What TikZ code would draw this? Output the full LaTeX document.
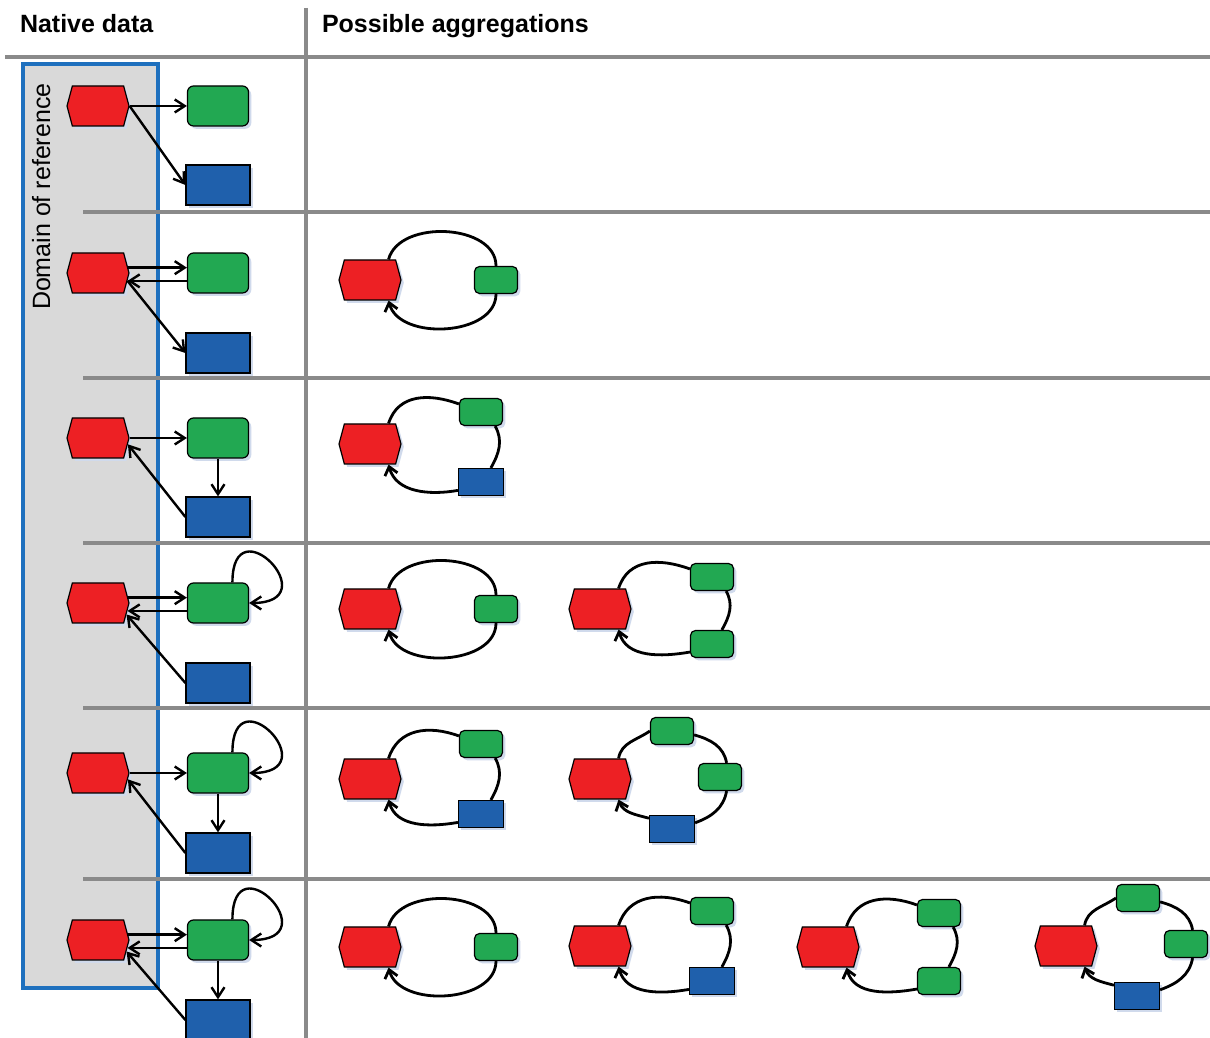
\documentclass[tikz,border=0pt]{standalone}
\usepackage{fontspec}
\setmainfont{Liberation Sans}
\usetikzlibrary{arrows.meta,shapes.symbols,shadows}
\tikzset{
  softshadow/.style={drop shadow={shadow xshift=1.4pt,shadow yshift=-1.4pt,fill=shadowColor,opacity=1}},
  redhex/.style={shape=signal,signal to=east and west,signal pointer angle=150,
    draw=black,line width=0.6pt,fill=hexColor,minimum width=31pt,minimum height=20pt,inner sep=0pt,softshadow},
  greenbox/.style={rectangle,rounded corners=3pt,draw=black,line width=0.6pt,fill=greenColor,
    minimum width=30.5pt,minimum height=20pt,inner sep=0pt,softshadow},
  bluebox/.style={rectangle,draw=black,line width=0.6pt,fill=blueColor,
    minimum width=32pt,minimum height=20pt,inner sep=0pt,softshadow},
  smallgreen/.style={greenbox,rounded corners=2.5pt,minimum width=21.5pt,minimum height=13.5pt},
  smallblue/.style={bluebox,minimum width=22.5pt,minimum height=13.5pt},
  arr/.style={line width=1.2pt,-{Straight Barb[length=5pt,width=6.5pt]}},
  cyc/.style={line width=1.4pt},
  cycarr/.style={cyc,-{Straight Barb[length=4pt,width=6.5pt]}},
  sepline/.style={draw=lineColor,line width=1.6pt},
  hdrtext/.style={anchor=base west,inner sep=0pt,outer sep=0pt,font=\fontsize{12.5}{15}\selectfont},
}
\begin{document}
\begin{tikzpicture}[x=0.5pt,y=0.5pt]
\definecolor{hexColor}{RGB}{237,32,36}
\definecolor{greenColor}{RGB}{34,168,82}
\definecolor{blueColor}{RGB}{31,96,172}
\definecolor{shadowColor}{RGB}{208,218,236}
\definecolor{domainColor}{RGB}{30,112,190}
\definecolor{domainFill}{RGB}{217,217,217}
\definecolor{lineColor}{RGB}{138,138,138}
\path[use as bounding box,fill=white] (0,0) rectangle (1210,1038);

\path[draw=domainColor,line width=1.6pt,fill=domainFill] ( 23, 50) rectangle (158,974);
\node[hdrtext,rotate=90] (domain) at ( 50,728) {Domain of reference};

\path[sepline] (  5,981) -- (1210,981);
\path[sepline] ( 83,826) -- (1210,826);
\path[sepline] ( 83,660) -- (1210,660);
\path[sepline] ( 83,495) -- (1210,495);
\path[sepline] ( 83,330) -- (1210,330);
\path[sepline] ( 83,159) -- (1210,159);
\path[sepline] (306,1030) -- (306,0);

\node[hdrtext] (native) at ( 20,1005) {\bfseries Native data};
\node[hdrtext] (aggs) at (322,1005) {\bfseries Possible aggregations};

\node[redhex] (nr1) at ( 98,932) {};
\node[greenbox] (ng1) at (218,932) {};
\node[bluebox] (nb1) at (218,853) {};
\draw[arr] (nr1.east) -- (ng1.west);
\draw[arr] (nr1.east) -- (nb1.west);

\node[redhex] (nr2) at ( 98,765) {};
\node[greenbox] (ng2) at (218,765) {};
\node[bluebox] (nb2) at (218,685) {};
\draw[arr] (nr2.10) -- (nr2.10 -| ng2.west);
\draw[arr] (nr2.-15 -| ng2.west) -- (nr2.-15);
\draw[arr] (nr2.-15) -- (nb2.west);

\node[redhex] (nr3) at ( 98,600) {};
\node[greenbox] (ng3) at (218,600) {};
\node[bluebox] (nb3) at (218,521) {};
\draw[arr] (nr3.east) -- (ng3.west);
\draw[arr] (ng3.south) -- (nb3.north);
\draw[arr] (nb3.west) -- (nr3.-12);

\node[redhex] (nr4) at ( 98,435) {};
\node[greenbox] (ng4) at (218,435) {};
\node[bluebox] (nb4) at (218,355) {};
\draw[arr] (nr4.10) -- (nr4.10 -| ng4.west);
\draw[arr] (nr4.-15 -| ng4.west) -- (nr4.-15);
\draw[arr] (nb4.west) -- (nr4.-22);
\draw[arr] (ng4.55) .. controls +(0,80) and +(80,0) .. (ng4.east);

\node[redhex] (nr5) at ( 98,265) {};
\node[greenbox] (ng5) at (218,265) {};
\node[bluebox] (nb5) at (218,185) {};
\draw[arr] (nr5.east) -- (ng5.west);
\draw[arr] (ng5.south) -- (nb5.north);
\draw[arr] (nb5.west) -- (nr5.-12);
\draw[arr] (ng5.55) .. controls +(0,80) and +(80,0) .. (ng5.east);

\node[redhex] (nr6) at ( 98, 98) {};
\node[greenbox] (ng6) at (218, 98) {};
\node[bluebox] (nb6) at (218, 18) {};
\draw[arr] (nr6.10) -- (nr6.10 -| ng6.west);
\draw[arr] (nr6.-15 -| ng6.west) -- (nr6.-15);
\draw[arr] (ng6.south) -- (nb6.north);
\draw[arr] (nb6.west) -- (nr6.-22);
\draw[arr] (ng6.55) .. controls +(0,80) and +(80,0) .. (ng6.east);

\node[redhex] (r2a) at (370,758) {};
\node[smallgreen] (g2a) at (496,758) {};
\draw[cyc] (r2a.48) to[out=75,in=90] (g2a.north);
\draw[cycarr] (g2a.south) to[out=-90,in=-75] (r2a.-48);

\node[redhex] (r3a) at (370,594) {};
\node[smallgreen] (g3a) at (481,626) {};
\node[smallblue] (b3a) at (481,556) {};
\draw[cyc] (r3a.48) to[out=72,in=160,looseness=1.1] (g3a.160);
\draw[cyc] (g3a.-45) to[out=-60,in=60] (b3a.55);
\draw[cycarr] (b3a.200) to[out=190,in=-75] (r3a.-48);

\node[redhex] (r4a) at (370,429) {};
\node[smallgreen] (g4a) at (496,429) {};
\draw[cyc] (r4a.48) to[out=75,in=90] (g4a.north);
\draw[cycarr] (g4a.south) to[out=-90,in=-75] (r4a.-48);

\node[redhex] (r4b) at (600,429) {};
\node[smallgreen] (g4b) at (712,461) {};
\node[smallgreen] (h4b) at (712,394) {};
\draw[cyc] (r4b.48) to[out=72,in=160,looseness=1.1] (g4b.160);
\draw[cyc] (g4b.-45) to[out=-60,in=60] (h4b.55);
\draw[cycarr] (h4b.200) to[out=190,in=-75] (r4b.-48);

\node[redhex] (r5a) at (370,259) {};
\node[smallgreen] (g5a) at (481,294) {};
\node[smallblue] (b5a) at (481,224) {};
\draw[cyc] (r5a.48) to[out=72,in=160,looseness=1.1] (g5a.160);
\draw[cyc] (g5a.-45) to[out=-60,in=60] (b5a.55);
\draw[cycarr] (b5a.200) to[out=190,in=-75] (r5a.-48);

\node[redhex] (r5b) at (600,259) {};
\node[smallgreen] (g5b) at (672,307) {};
\node[smallgreen] (h5b) at (720,261) {};
\node[smallblue] (b5b) at (672,209) {};
\draw[cyc] (r5b.48) to[out=80,in=215] (g5b.west);
\draw[cyc] (g5b.-10) to[out=-15,in=100] (h5b.65);
\draw[cyc] (h5b.-65) to[out=-100,in=20] (b5b.15);
\draw[cycarr] (b5b.155) to[out=165,in=-70] (r5b.-48);

\node[redhex] (r6a) at (370, 91) {};
\node[smallgreen] (g6a) at (496, 91) {};
\draw[cyc] (r6a.48) to[out=75,in=90] (g6a.north);
\draw[cycarr] (g6a.south) to[out=-90,in=-75] (r6a.-48);

\node[redhex] (r6b) at (600, 92) {};
\node[smallgreen] (g6b) at (712,127) {};
\node[smallblue] (b6b) at (712, 57) {};
\draw[cyc] (r6b.48) to[out=72,in=160,looseness=1.1] (g6b.160);
\draw[cyc] (g6b.-45) to[out=-60,in=60] (b6b.55);
\draw[cycarr] (b6b.200) to[out=190,in=-75] (r6b.-48);

\node[redhex] (r6c) at (828, 91) {};
\node[smallgreen] (g6c) at (939,125) {};
\node[smallgreen] (h6c) at (939, 57) {};
\draw[cyc] (r6c.48) to[out=72,in=160,looseness=1.1] (g6c.160);
\draw[cyc] (g6c.-45) to[out=-60,in=60] (h6c.55);
\draw[cycarr] (h6c.200) to[out=190,in=-75] (r6c.-48);

\node[redhex] (r6d) at (1066, 92) {};
\node[smallgreen] (g6d) at (1138,140) {};
\node[smallgreen] (h6d) at (1186, 94) {};
\node[smallblue] (b6d) at (1137, 42) {};
\draw[cyc] (r6d.48) to[out=80,in=215] (g6d.west);
\draw[cyc] (g6d.-10) to[out=-15,in=100] (h6d.65);
\draw[cyc] (h6d.-65) to[out=-100,in=20] (b6d.15);
\draw[cycarr] (b6d.155) to[out=165,in=-70] (r6d.-48);
\end{tikzpicture}
\end{document}
